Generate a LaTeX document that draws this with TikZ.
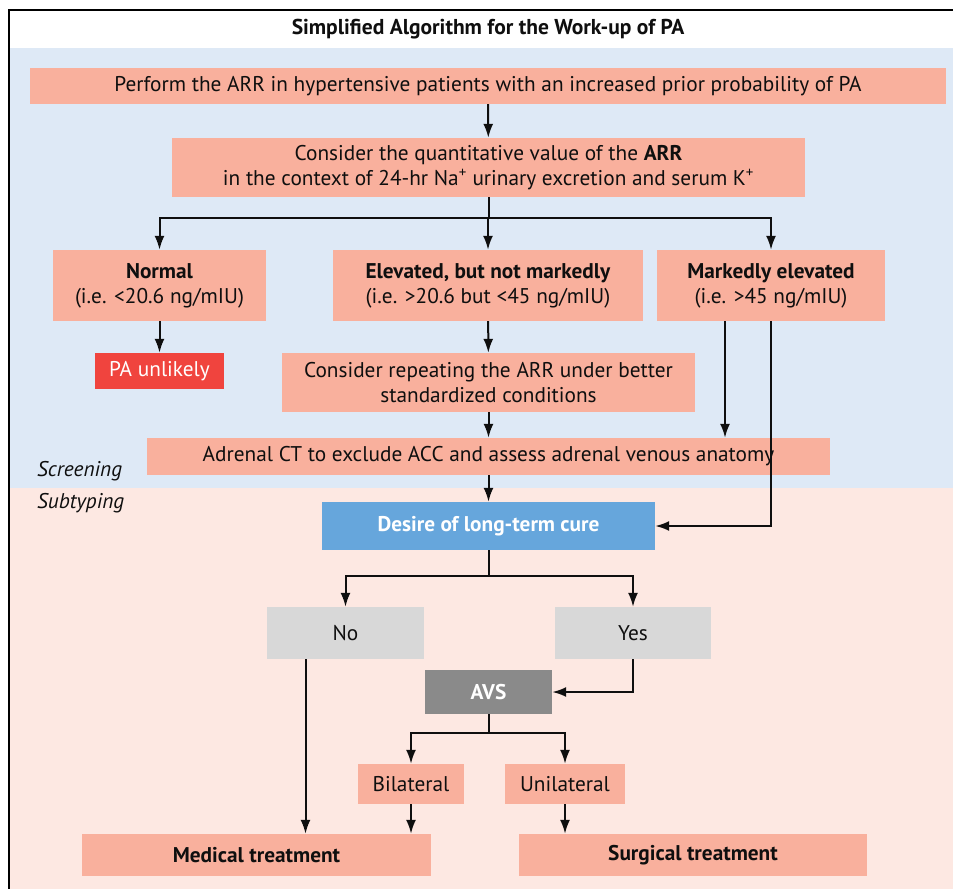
\documentclass[tikz,border=0pt]{standalone}
\usepackage{fontspec}
\setmainfont{PT Sans}
\usepackage{xcolor}
\usepackage{tikz}
\usetikzlibrary{arrows.meta}
\usetikzlibrary{calc}

\definecolor{salmon}{RGB}{249,176,157}
\definecolor{screenbg}{RGB}{222,233,246}
\definecolor{subtypebg}{RGB}{253,232,226}
\definecolor{cureblue}{RGB}{102,166,220}
\definecolor{unlikelyred}{RGB}{240,68,62}
\definecolor{choicegray}{RGB}{216,216,216}
\definecolor{avsgray}{RGB}{138,138,138}
\definecolor{ink}{RGB}{15,15,15}

\begin{document}
\begin{tikzpicture}[x=1pt,y=-1pt]%%workup

        \tikzstyle{box}   = [rectangle, fill=salmon, inner sep=0pt, align=center, text=ink,
                             font=\fontsize{21.3}{25}\selectfont]
        \tikzstyle{arr}   = [line width=2pt, draw=ink, -{Latex[length=14pt,width=10pt]}]
        \tikzstyle{line}  = [line width=2pt, draw=ink]
        \tikzstyle{phase} = [anchor=west, inner sep=0pt, text=ink, font=\fontsize{21.3}{25}\selectfont\itshape]

        \useasboundingbox (0,0) rectangle (953,889);

        % backgrounds and frame
        \fill[white]      (0,0)   rectangle (953,889);
        \fill[screenbg]   (10,48) rectangle (953,488);
        \fill[subtypebg]  (10,488) rectangle (953,889);
        \draw[line width=2pt] (953,10) -- (9,10) -- (9,889);
        \node[inner sep=0pt, text=ink, font=\fontsize{21.5}{25}\selectfont\bfseries] (title) at (488,29)
                {Simplified Algorithm for the Work-up of PA};

        % screening
        \node [box, minimum width=916pt, minimum height=36pt](perform) at (488,86)
                {Perform the ARR in hypertensive patients with an increased prior probability of PA};
        \node [box, minimum width=633pt, minimum height=59pt](consider) at (488.5,167.5)
                {Consider the quantitative value of the \textbf{ARR}\\
                 in the context of 24-hr Na\textsuperscript{+} urinary excretion and serum K\textsuperscript{+}};
        \node [box, minimum width=213pt, minimum height=71pt](normal) at (159.5,285.5)
                {\textbf{Normal}\\(i.e. <20.6 ng/mIU)};
        \node [box, minimum width=310pt, minimum height=71pt](elevated) at (488,285.5)
                {\textbf{Elevated, but not markedly}\\(i.e. >20.6 but <45 ng/mIU)};
        \node [box, minimum width=228pt, minimum height=71pt](marked) at (771,285.5)
                {\textbf{Markedly elevated}\\(i.e. >45 ng/mIU)};
        \node [box, fill=unlikelyred, text=white, minimum width=129pt, minimum height=36pt](unlikely) at (159.5,371)
                {PA unlikely};
        \node [box, minimum width=413pt, minimum height=59pt](repeat) at (488.5,382.5)
                {Consider repeating the ARR under better\\standardized conditions};
        \node [box, minimum width=683pt, minimum height=37pt](ct) at (488.5,456.5)
                {Adrenal CT to exclude ACC and assess adrenal venous anatomy};
        \node [phase](screening) at (37,471) {Screening};
        \node [phase](subtyping) at (37,503) {Subtyping};

        % subtyping
        \node [box, fill=cureblue, text=white, font=\fontsize{21.3}{25}\selectfont\bfseries,
               minimum width=333pt, minimum height=48pt](cure) at (488.5,526) {Desire of long-term cure};
        \node [box, fill=choicegray, minimum width=157pt, minimum height=52pt](no) at (345.5,633) {No};
        \node [box, fill=choicegray, minimum width=156pt, minimum height=52pt](yes) at (633,633) {Yes};
        \node [box, fill=avsgray, text=white, font=\fontsize{21.3}{25}\selectfont\bfseries,
               minimum width=127pt, minimum height=44pt](avs) at (488.5,692) {AVS};
        \node [box, minimum width=106pt, minimum height=40pt](bilateral) at (411,784) {Bilateral};
        \node [box, minimum width=120pt, minimum height=40pt](unilateral) at (565,784) {Unilateral};
        \node [box, font=\fontsize{21.3}{25}\selectfont\bfseries,
               minimum width=349pt, minimum height=42pt](medical) at (256.5,855) {Medical treatment};
        \node [box, font=\fontsize{21.3}{25}\selectfont\bfseries,
               minimum width=348pt, minimum height=42pt](surgical) at (693,855) {Surgical treatment};

        % connectors
        \draw [arr] (perform) -- (consider);
        \draw [line] (consider.south) -- ++(0,21) coordinate (split1);
        \foreach \t in {normal, elevated, marked}
                \draw [arr] (split1) -| (\t.north);
        \draw [arr] (normal) -- (unlikely);
        \draw [arr] (elevated) -- (repeat);
        \draw [arr] (repeat) -- (ct);
        \draw [arr] ([xshift=-46pt]marked.south) -- ([xshift=-46pt]marked.south |- ct.north);
        \draw [arr] (marked.south) |- (cure.east);
        \draw [arr] (ct) -- (cure);

        \draw [line] (cure.south) -- ++(0,26) coordinate (split2);
        \foreach \t in {no, yes}
                \draw [arr] (split2) -| (\t.north);
        \draw [arr] ([xshift=-40pt]no.south) -- ([xshift=-40pt]no.south |- medical.north);
        \draw [arr] (yes.south) |- (avs.east);
        \draw [line] (avs.south) -- ++(0,19) coordinate (split3);
        \foreach \t in {bilateral, unilateral}
                \draw [arr] (split3) -| (\t.north);
        \draw [arr] (bilateral) -- (bilateral |- medical.north);
        \draw [arr] (unilateral.south) -- (unilateral.south |- surgical.north);
\end{tikzpicture}
\end{document}
